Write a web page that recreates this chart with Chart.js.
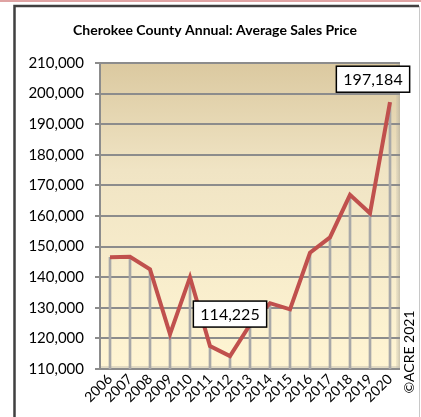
<!DOCTYPE html>
<html lang="en">
<head>
    <meta charset="UTF-8">
    <title>Cherokee County Annual: Average Sales Price</title>
    <script src="https://cdn.jsdelivr.net/npm/chart.js"></script>
    <style>
        html, body {
            margin: 0;
            padding: 0;
            background: #ffffff;
        }
        #wrap {
            width: 421px;
            height: 417px;
            position: relative;
        }
    </style>
</head>
<body>
    <div id="wrap"><canvas id="priceChart" width="421" height="417"></canvas></div>
    <script>
        const years = ['2006', '2007', '2008', '2009', '2010', '2011', '2012', '2013',
                       '2014', '2015', '2016', '2017', '2018', '2019', '2020'];
        const avgPrice = [146500, 146700, 142600, 121400, 140000, 117500, 114225, 124500,
                          131500, 129500, 148000, 153000, 166900, 160900, 197184];
        const yTicks = [110000, 120000, 130000, 140000, 150000, 160000, 170000,
                        180000, 190000, 200000, 210000];
        const titleText = 'Cherokee County Annual: Average Sales Price';
        const creditText = '\u00A9ACRE 2021';
        // which points get a value box, and where the box sits relative to the point
        const callouts = [
            { index: 14, dx: -17, dy: -23 },
            { index: 6, dx: 0, dy: -42 }
        ];

        const FONT = 'Lato, "Open Sans", sans-serif';

        const decorPlugin = {
            id: 'decor',
            beforeDraw(chart) {
                const ctx = chart.ctx;
                const a = chart.chartArea;
                ctx.save();
                // pink strip at the very top
                ctx.fillStyle = '#dfa3a3';
                ctx.fillRect(0, 0, chart.width, 2);
                // frame
                ctx.strokeStyle = '#404040';
                ctx.lineWidth = 2.5;
                ctx.beginPath();
                ctx.moveTo(14.5, chart.height + 5);
                ctx.lineTo(14.5, 6);
                ctx.lineTo(chart.width - 2, 6);
                ctx.stroke();
                ctx.strokeStyle = '#c8c8c8';
                ctx.lineWidth = 1;
                ctx.beginPath();
                ctx.moveTo(chart.width - 1.5, 6);
                ctx.lineTo(chart.width - 1.5, chart.height);
                ctx.stroke();

                // plot background gradient
                const g = ctx.createLinearGradient(0, a.top, 0, a.bottom);
                g.addColorStop(0, '#dbc9a0');
                g.addColorStop(0.35, '#f0e4c4');
                g.addColorStop(1, '#fff5d3');
                ctx.fillStyle = g;
                ctx.fillRect(a.left, a.top, a.right - a.left, a.bottom - a.top);
                // right wall
                const w = ctx.createLinearGradient(a.right - 4, 0, a.right, 0);
                w.addColorStop(0, 'rgba(190,185,170,0.2)');
                w.addColorStop(1, 'rgba(170,165,150,0.6)');
                ctx.fillStyle = w;
                ctx.fillRect(a.right - 4, a.top, 4, a.bottom - a.top);
                // floor
                ctx.fillStyle = 'rgba(200,195,180,0.55)';
                ctx.fillRect(a.left, a.bottom - 3, a.right - a.left, 3);
                // top border
                ctx.strokeStyle = '#9fb3d6';
                ctx.lineWidth = 2;
                ctx.beginPath();
                ctx.moveTo(a.left, a.top);
                ctx.lineTo(a.right, a.top);
                ctx.stroke();

                // title
                ctx.fillStyle = '#000000';
                ctx.font = 'bold 14px ' + FONT;
                ctx.textAlign = 'center';
                ctx.textBaseline = 'middle';
                ctx.fillText(titleText, 215, 30);
                ctx.restore();
            },
            afterDraw(chart) {
                const ctx = chart.ctx;
                const meta = chart.getDatasetMeta(1);
                ctx.save();
                ctx.font = '16px ' + FONT;
                ctx.textAlign = 'center';
                ctx.textBaseline = 'middle';
                callouts.forEach(c => {
                    const pt = meta.data[c.index];
                    const label = avgPrice[c.index].toLocaleString('en-US');
                    const tw = ctx.measureText(label).width;
                    const bw = tw + 14, bh = 26;
                    const cx = pt.x + c.dx, cy = pt.y + c.dy;
                    ctx.fillStyle = '#ffffff';
                    ctx.fillRect(cx - bw / 2, cy - bh / 2, bw, bh);
                    ctx.strokeStyle = '#000000';
                    ctx.lineWidth = 1.5;
                    ctx.strokeRect(cx - bw / 2, cy - bh / 2, bw, bh);
                    ctx.fillStyle = '#000000';
                    ctx.fillText(label, cx, cy + 1);
                });
                // credit, rotated
                ctx.translate(409, 352);
                ctx.rotate(-Math.PI / 2);
                ctx.font = '14px ' + FONT;
                ctx.fillText(creditText, 0, 0);
                ctx.restore();
            }
        };

        const ctx = document.getElementById('priceChart').getContext('2d');
        new Chart(ctx, {
            data: {
                labels: years,
                datasets: [
                    {
                        // drop lines from each point to the floor
                        type: 'bar',
                        data: avgPrice,
                        backgroundColor: '#a8a8a8',
                        barThickness: 2,
                        order: 2
                    },
                    {
                        type: 'line',
                        data: avgPrice,
                        borderColor: '#c0504d',
                        borderWidth: 4,
                        pointRadius: 0,
                        tension: 0,
                        order: 1
                    }
                ]
            },
            options: {
                responsive: false,
                animation: false,
                layout: { padding: { top: 63, right: 21, left: 0, bottom: 0 } },
                plugins: {
                    legend: { display: false },
                    tooltip: { enabled: false }
                },
                scales: {
                    x: {
                        offset: true,
                        grid: { display: false, drawTicks: false },
                        border: { display: false },
                        afterFit: s => { s.height = 48; },
                        ticks: {
                            color: '#000000',
                            font: { size: 14, family: FONT },
                            maxRotation: 45,
                            minRotation: 45,
                            autoSkip: false,
                            padding: 2
                        }
                    },
                    y: {
                        min: 110000,
                        max: 210000,
                        afterFit: s => { s.width = 100; },
                        afterBuildTicks: s => { s.ticks = yTicks.map(v => ({ value: v })); },
                        grid: {
                            color: '#8c8c8c',
                            lineWidth: 2,
                            tickLength: 5,
                            drawTicks: true
                        },
                        border: { color: '#8c8c8c', width: 2 },
                        ticks: {
                            color: '#000000',
                            font: { size: 15, family: FONT },
                            padding: 11,
                            callback: v => v.toLocaleString('en-US')
                        }
                    }
                }
            },
            plugins: [decorPlugin]
        });
    </script>
</body>
</html>
